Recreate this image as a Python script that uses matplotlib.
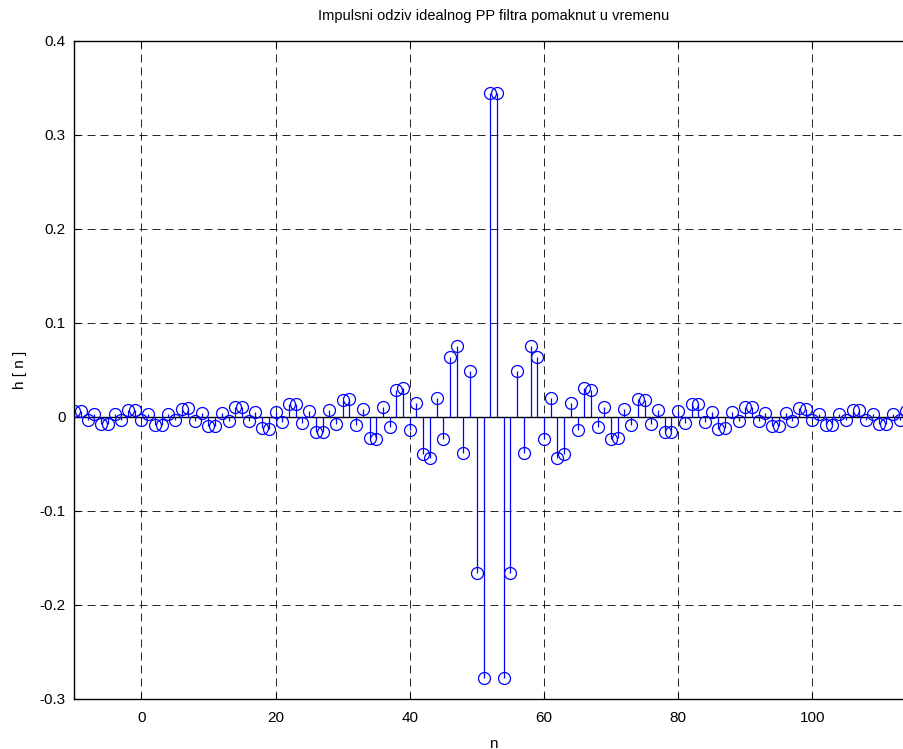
"""Stem plot of the time-shifted impulse response of an ideal band-pass filter."""

import matplotlib
matplotlib.use("Agg")
import matplotlib.pyplot as plt

plt.rcParams["font.family"] = ["Liberation Sans", "DejaVu Sans"]
plt.rcParams["axes.unicode_minus"] = False

# sample indices n = -10 .. 115
n = list(range(-10, 116))

# h[n] (symmetric around n = 52.5)
h = [
    0.0067, 0.0068, -0.0028, 0.0029, -0.0071, -0.0072, 0.0030, -0.0031, 0.0076, 0.0078,
    -0.0033, 0.0033, -0.0082, -0.0084, 0.0036, -0.0036, 0.0089, 0.0091, -0.0039, 0.0040,
    -0.0098, -0.0100, 0.0043, -0.0044, 0.0108, 0.0111, -0.0047, 0.0049, -0.0121, -0.0124,
    0.0053, -0.0055, 0.0136, 0.0141, -0.0060, 0.0063, -0.0157, -0.0163, 0.0070, -0.0073,
    0.0185, 0.0193, -0.0084, 0.0088, -0.0225, -0.0238, 0.0104, -0.0111, 0.0287, 0.0308,
    -0.0138, 0.0150, -0.0396, -0.0438, 0.0203, -0.0230, 0.0640, 0.0756, -0.0383, 0.0492,
    -0.1664, -0.2773, 0.3445,
    0.3445, -0.2773, -0.1664,
    0.0492, -0.0383, 0.0756, 0.0640, -0.0230, 0.0203, -0.0438, -0.0396, 0.0150, -0.0138,
    0.0308, 0.0287, -0.0111, 0.0104, -0.0238, -0.0225, 0.0088, -0.0084, 0.0193, 0.0185,
    -0.0073, 0.0070, -0.0163, -0.0157, 0.0063, -0.0060, 0.0141, 0.0136, -0.0055, 0.0053,
    -0.0124, -0.0121, 0.0049, -0.0047, 0.0111, 0.0108, -0.0044, 0.0043, -0.0100, -0.0098,
    0.0040, -0.0039, 0.0091, 0.0089, -0.0036, 0.0036, -0.0084, -0.0082, 0.0033, -0.0033,
    0.0078, 0.0076, -0.0031, 0.0030, -0.0072, -0.0071, 0.0029, -0.0028, 0.0068, 0.0067,
]

x_ticks = [0, 20, 40, 60, 80, 100]
y_ticks = [-0.3, -0.2, -0.1, 0, 0.1, 0.2, 0.3, 0.4]
y_tick_labels = ["-0.3", "-0.2", "-0.1", "0", "0.1", "0.2", "0.3", "0.4"]

W, H = 904, 749
fig = plt.figure(figsize=(W / 100, H / 100), dpi=100)
# axes extends a bit past the right edge (reference is cropped there)
ax = fig.add_axes([74.3 / W, (H - 699) / H, (913 - 74.3) / W, (699 - 41) / H])

markerline, stemlines, baseline = ax.stem(n, h, linefmt="b-", markerfmt="o", basefmt="k-")
stemlines.set_color("#0000ff")
stemlines.set_linewidth(0.9)
markerline.set_markerfacecolor("none")
markerline.set_markeredgecolor("#0000ff")
markerline.set_markersize(8.6)
markerline.set_markeredgewidth(0.9)
baseline.set_color("black")
baseline.set_linewidth(1.0)
baseline.set_zorder(1.5)

ax.set_xlim(-10, 115)
ax.set_ylim(-0.3, 0.4)
ax.set_xticks(x_ticks)
ax.set_yticks(y_ticks)
ax.set_yticklabels(y_tick_labels)
ax.tick_params(direction="in", length=4, width=0.8, labelsize=11, top=True, right=True, pad=6)
ax.tick_params(axis="x", pad=9)
ax.grid(True, color="black", linestyle=(0, (9.6, 6)), linewidth=0.6)
ax.set_axisbelow(True)
for s in ax.spines.values():
    s.set_linewidth(1.0)

ax.set_title("Impulsni odziv idealnog PP filtra pomaknut u vremenu", fontsize=10.5, pad=15)
ax.set_xlabel("n", fontsize=11, labelpad=8)
ax.set_ylabel("h [ n ]", fontsize=11, labelpad=9)

fig.savefig("out.png", dpi=100)
